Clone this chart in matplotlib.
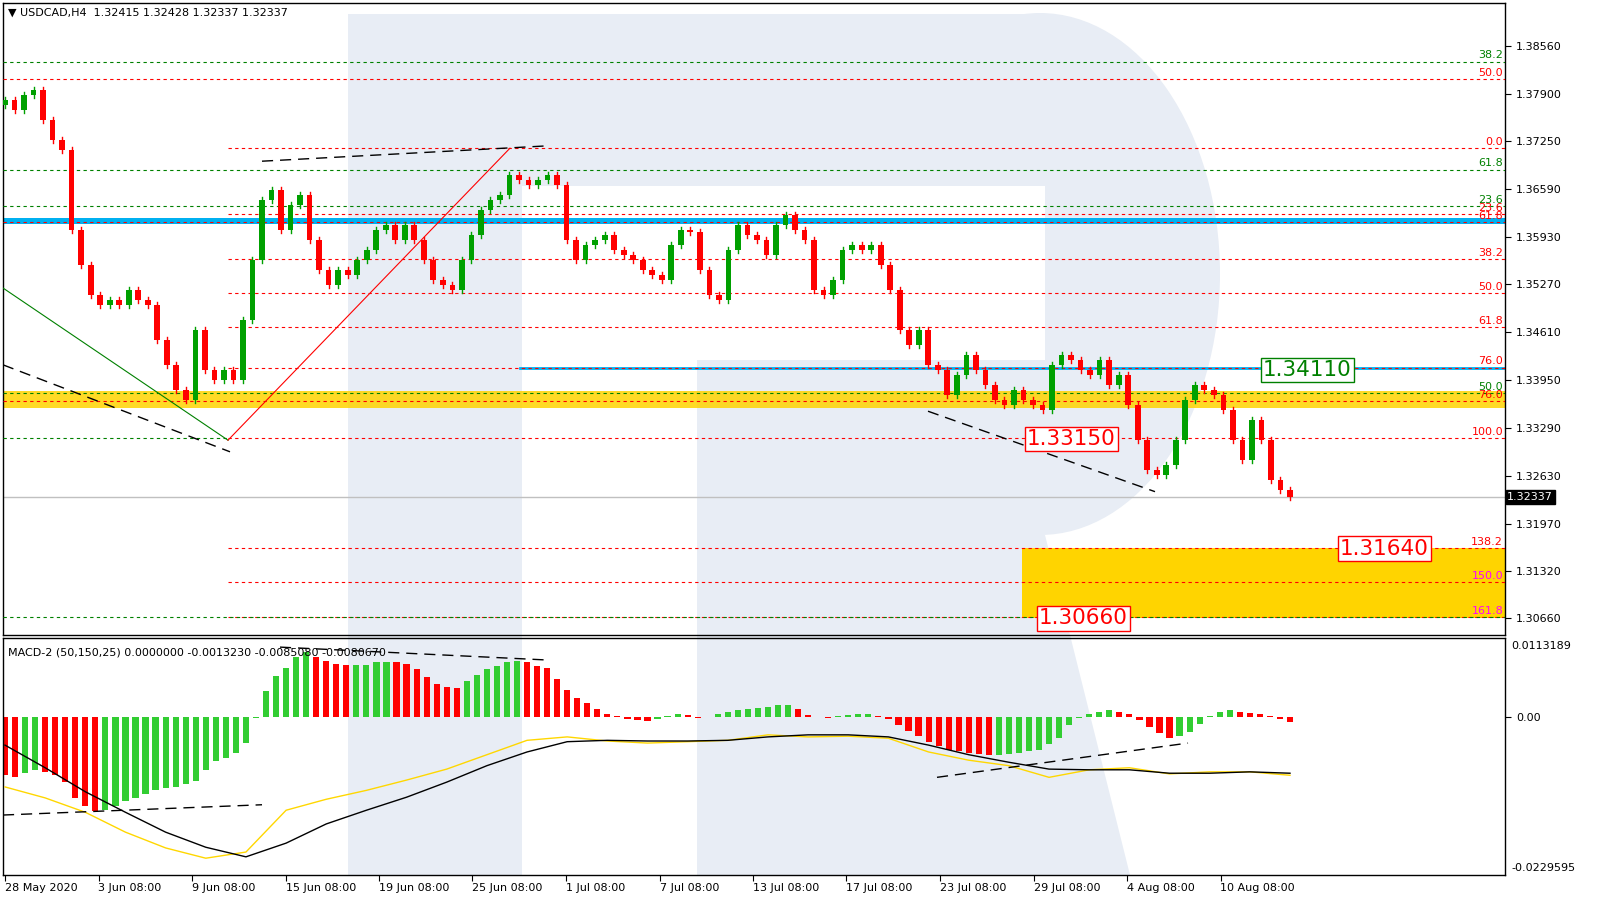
import numpy as np
import matplotlib.pyplot as plt
from matplotlib.patches import Rectangle, Polygon, Ellipse

# ---- data ----
closes = [1.3781, 1.3768, 1.3788, 1.3795, 1.3754, 1.3726, 1.3713, 1.3602, 1.3554, 1.3512,
          1.3499, 1.3506, 1.3499, 1.3519, 1.3506, 1.3499, 1.3450, 1.3416, 1.3381, 1.3368,
          1.3464, 1.3409, 1.3395, 1.3409, 1.3395, 1.3478, 1.3561, 1.3644, 1.3657, 1.3602,
          1.3637, 1.3650, 1.3588, 1.3547, 1.3526, 1.3547, 1.3540, 1.3561, 1.3575, 1.3602,
          1.3609, 1.3588, 1.3609, 1.3588, 1.3561, 1.3533, 1.3526, 1.3519, 1.3561, 1.3595,
          1.3630, 1.3644, 1.3650, 1.3678, 1.3671, 1.3664, 1.3671, 1.3678, 1.3664, 1.3588,
          1.3561, 1.3581, 1.3588, 1.3595, 1.3575, 1.3568, 1.3561, 1.3547, 1.3540, 1.3533,
          1.3581, 1.3602, 1.3599, 1.3547, 1.3512, 1.3506, 1.3575, 1.3609, 1.3595, 1.3588,
          1.3568, 1.3609, 1.3623, 1.3602, 1.3588, 1.3519, 1.3512, 1.3533, 1.3575, 1.3581,
          1.3575, 1.3581, 1.3554, 1.3519, 1.3464, 1.3443, 1.3464, 1.3416, 1.3409, 1.3374,
          1.3402, 1.3430, 1.3409, 1.3388, 1.3368, 1.3361, 1.3381, 1.3368, 1.3361, 1.3354,
          1.3416, 1.3430, 1.3423, 1.3409, 1.3402, 1.3423, 1.3388, 1.3402, 1.3361, 1.3312,
          1.3271, 1.3264, 1.3278, 1.3312, 1.3368, 1.3388, 1.3381, 1.3374, 1.3354, 1.3312,
          1.3285, 1.3340, 1.3312, 1.3257, 1.3243, 1.32337]
first_open = 1.3775
wick = 0.0004

# MACD histogram (x1e-4)
hist = [-85, -87, -82, -77, -80, -85, -95, -118, -130, -137, -135, -130, -122, -118, -112,
        -106, -104, -102, -98, -93, -78, -64, -60, -52, -38, -2, 38, 60, 72, 88, 95, 88, 82,
        78, 76, 76, 76, 80, 81, 80, 78, 70, 58, 48, 44, 42, 52, 62, 70, 75, 80, 82, 80, 74,
        72, 55, 40, 28, 20, 12, 5, 1, -3, -5, -6, -3, 2, 5, 3, -1, 0, 5, 8, 10, 12, 13, 15,
        17, 18, 12, 3, 0, -1, 1, 3, 4, 4, 2, -3, -12, -20, -28, -36, -42, -48, -50, -52,
        -54, -55, -55, -54, -52, -50, -48, -40, -30, -12, -2, 5, 8, 10, 8, 4, -5, -15, -24,
        -30, -28, -22, -10, 2, 8, 10, 8, 6, 4, 2, -3, -7]
macd_black = [-41, -74, -109, -139, -168, -190, -204, -184, -156, -136, -117, -95, -71, -51,
              -36, -34, -35, -35, -34, -29, -26, -26, -29, -41, -55, -66, -76, -77, -77, -82,
              -82, -80, -82]
macd_yellow = [-102, -118, -139, -168, -191, -206, -197, -136, -120, -107, -92, -76, -55,
               -34, -29, -35, -38, -36, -34, -26, -29, -28, -31, -51, -63, -71, -88, -77,
               -74, -83, -80, -80, -85]

price_ticks = [1.38560, 1.37900, 1.37250, 1.36590, 1.35930, 1.35270, 1.34610,
               1.33950, 1.33290, 1.32630, 1.31970, 1.31320, 1.30660]
date_labels = ['28 May 2020', '3 Jun 08:00', '9 Jun 08:00', '15 Jun 08:00', '19 Jun 08:00',
               '25 Jun 08:00', '1 Jul 08:00', '7 Jul 08:00', '13 Jul 08:00', '17 Jul 08:00',
               '23 Jul 08:00', '29 Jul 08:00', '4 Aug 08:00', '10 Aug 08:00']

# fibo levels: (price, label, colour, full width?)
fibs = [(1.3834, '38.2', 'green', True), (1.3810, '50.0', 'red', True),
        (1.3715, '0.0', 'red', False), (1.3685, '61.8', 'green', True),
        (1.3635, '23.6', 'green', True), (1.3624, '23.6', 'red', False),
        (1.3613, '61.8', 'red', True), (1.3562, '38.2', 'red', False),
        (1.3515, '50.0', 'red', False), (1.3468, '61.8', 'red', False),
        (1.3412, '76.0', 'red', False), (1.3377, '50.0', 'green', True),
        (1.3366, '76.0', 'red', True), (1.3315, '100.0', 'red', False),
        (1.3163, '138.2', 'red', False), (1.3116, '150.0', 'magenta', False),
        (1.3068, '161.8', 'magenta', False)]

W, H = 1612, 924
n = len(closes)
unit = 1285 / (n - 1)               # pixels per bar
x0 = -2 / unit
x1 = 1500 / unit
xfib = 223 / unit                   # start of fibo grid anchored at the June low

fig = plt.figure(figsize=(W / 100, H / 100), dpi=100)
fig.patch.set_facecolor('white')

# background watermark (pixel coordinates)
bg = fig.add_axes([0, 0, 1, 1], zorder=0)
bg.set_xlim(0, W)
bg.set_ylim(H, 0)
bg.axis('off')
wm = '#e8edf5'
bg.add_patch(Ellipse((1040, 274), 360, 522, color=wm, lw=0))
bg.add_patch(Rectangle((348, 14), 692, 521, color=wm, lw=0))
bg.add_patch(Rectangle((522, 186), 523, 174, color='white', lw=0))
bg.add_patch(Rectangle((522, 360), 175, 515, color='white', lw=0))
bg.add_patch(Rectangle((348, 535), 174, 340, color=wm, lw=0))
bg.add_patch(Polygon([(697, 535), (1045, 535), (1130, 875), (697, 875)], color=wm, lw=0))

ax = fig.add_axes([3 / W, (H - 635) / H, 1502 / W, 632 / H], zorder=1)
mx = fig.add_axes([3 / W, (H - 875) / H, 1502 / W, 237 / H], zorder=1)
for a in (ax, mx):
    a.set_facecolor('none')
    a.set_xlim(x0, x1)
    for s in a.spines.values():
        s.set_color('black')
        s.set_linewidth(1)
    a.yaxis.tick_right()
    a.tick_params(axis='y', direction='out', length=4, labelsize=8, pad=4)

ax.set_ylim(1.30432, 1.39153)
ax.set_yticks(price_ticks)
ax.set_yticklabels([f'{p:.5f}' for p in price_ticks])
ax.set_xticks([])

# bands
ax.axhspan(1.3610, 1.3619, color='#00b0f0', lw=0, zorder=1)
ax.axhspan(1.3356, 1.3380, color='#ffd400', alpha=0.85, lw=0, zorder=1)
ax.add_patch(Rectangle((1017 / unit, 1.3067), x1 - 1017 / unit, 1.3163 - 1.3067,
                       color='#ffd400', lw=0, zorder=1))
ax.plot([515 / unit, x1], [1.3411, 1.3411], color='#00b0f0', lw=2, zorder=2)

# fibo lines
fcol = {'green': '#008000', 'red': '#ff0000', 'magenta': '#ff00ff'}
for p, lab, c, full in fibs:
    lc = '#ff0000' if c == 'magenta' else fcol[c]
    ax.plot([x0 if full else xfib, x1], [p, p], color=lc, lw=0.8, ls=(0, (3, 3)), zorder=3)
    ax.text(x1 - 0.2, p + 0.0002, lab, color=fcol[c], fontsize=8, ha='right', va='bottom',
            zorder=5)
ax.plot([x0, xfib], [1.3315, 1.3315], color='#008000', lw=0.8, ls=(0, (3, 3)), zorder=3)
ax.plot([x0, x1], [1.3068, 1.3068], color='#008000', lw=0.8, ls=(0, (3, 3)), zorder=3)

# current price line
ax.axhline(closes[-1], color='#c0c0c0', lw=1, zorder=2)

# trend lines
ax.plot([x0, xfib], [1.3522, 1.3312], color='#008000', lw=0.8, zorder=3)
ax.plot([xfib, 505 / unit], [1.3312, 1.3715], color='#ff0000', lw=0.8, zorder=3)
ax.plot([x0, 225 / unit], [1.3416, 1.3296], color='black', lw=1, ls=(0, (8, 5)), zorder=3)
ax.plot([257 / unit, 540 / unit], [1.3697, 1.3718], color='black', lw=1, ls=(0, (8, 5)), zorder=3)
ax.plot([923 / unit, 1150 / unit], [1.3352, 1.3241], color='black', lw=1, ls=(0, (8, 5)), zorder=3)

# candles
opens = [first_open] + closes[:-1]
xs = np.arange(n)
for i in range(n):
    o, c = opens[i], closes[i]
    col = '#00a000' if c >= o else '#ff0000'
    ax.plot([i, i], [min(o, c) - wick, max(o, c) + wick], color=col, lw=1, zorder=4)
    ax.add_patch(Rectangle((i - 0.3, min(o, c)), 0.6, max(abs(c - o), 0.00005),
                           color=col, lw=0, zorder=4))

# price tag
ax.text(1.0015, closes[-1], f'{closes[-1]:.5f}', transform=ax.get_yaxis_transform(),
        fontsize=8, color='white', va='center', ha='left',
        bbox=dict(boxstyle='square,pad=0.15', fc='black', ec='black'), zorder=6)

# large level boxes
def level_box(x, y, txt, c):
    ax.text(x, y, txt, fontsize=15.5, color=c, ha='left', va='center', zorder=6,
            bbox=dict(boxstyle='square,pad=0.1', fc='white', ec=c, lw=1))

level_box(1258 / unit, 1.34085, '1.34110', '#008000')
level_box(1022 / unit, 1.33140, '1.33150', '#ff0000')
level_box(1335 / unit, 1.31625, '1.31640', '#ff0000')
level_box(1034 / unit, 1.30660, '1.30660', '#ff0000')

ax.text(0.003, 0.992, '\u25bc USDCAD,H4  1.32415 1.32428 1.32337 1.32337',
        transform=ax.transAxes, fontsize=8, va='top', ha='left')

# ---- MACD panel ----
mx.set_ylim(-0.02305, 0.01153)
mx.set_yticks([0.0])
mx.set_yticklabels(['0.00'])
mx.text(1.004, 0.965, '0.0113189', transform=mx.transAxes, fontsize=8, va='center')
mx.text(1.004, 0.03, '-0.0229595', transform=mx.transAxes, fontsize=8, va='center')
hv = np.array(hist) * 1e-4
hx = np.linspace(0, n - 1, len(hv))
hcol = ['#32cd32' if (k > 0 and hv[k] >= hv[k - 1]) else '#ff0000' for k in range(len(hv))]
hcol[0] = '#ff0000'
mx.bar(hx, hv, width=0.65, color=hcol, lw=0, zorder=2)
lx = np.linspace(0, n - 1, len(macd_black))
mx.plot(lx, np.array(macd_yellow) * 1e-4, color='#ffd700', lw=1, zorder=3)
mx.plot(lx, np.array(macd_black) * 1e-4, color='black', lw=1, zorder=3)
mx.plot([x0, 257 / unit], [-0.0143, -0.0128], color='black', lw=1, ls=(0, (8, 5)), zorder=3)
mx.plot([275 / unit, 545 / unit], [0.0102, 0.0083], color='black', lw=1, ls=(0, (8, 5)), zorder=3)
mx.plot([932 / unit, 1183 / unit], [-0.0088, -0.0038], color='black', lw=1, ls=(0, (8, 5)), zorder=3)
mx.text(0.003, 0.96, 'MACD-2 (50,150,25) 0.0000000 -0.0013230 -0.0085080 -0.0080670',
        transform=mx.transAxes, fontsize=8, va='top', ha='left')

tick_idx = np.arange(len(date_labels)) * (93.5 / unit)
mx.set_xticks(tick_idx)
mx.set_xticklabels(date_labels, ha='left', fontsize=8)
mx.tick_params(axis='x', direction='out', length=4, pad=2)

fig.savefig('out.png', dpi=100)
